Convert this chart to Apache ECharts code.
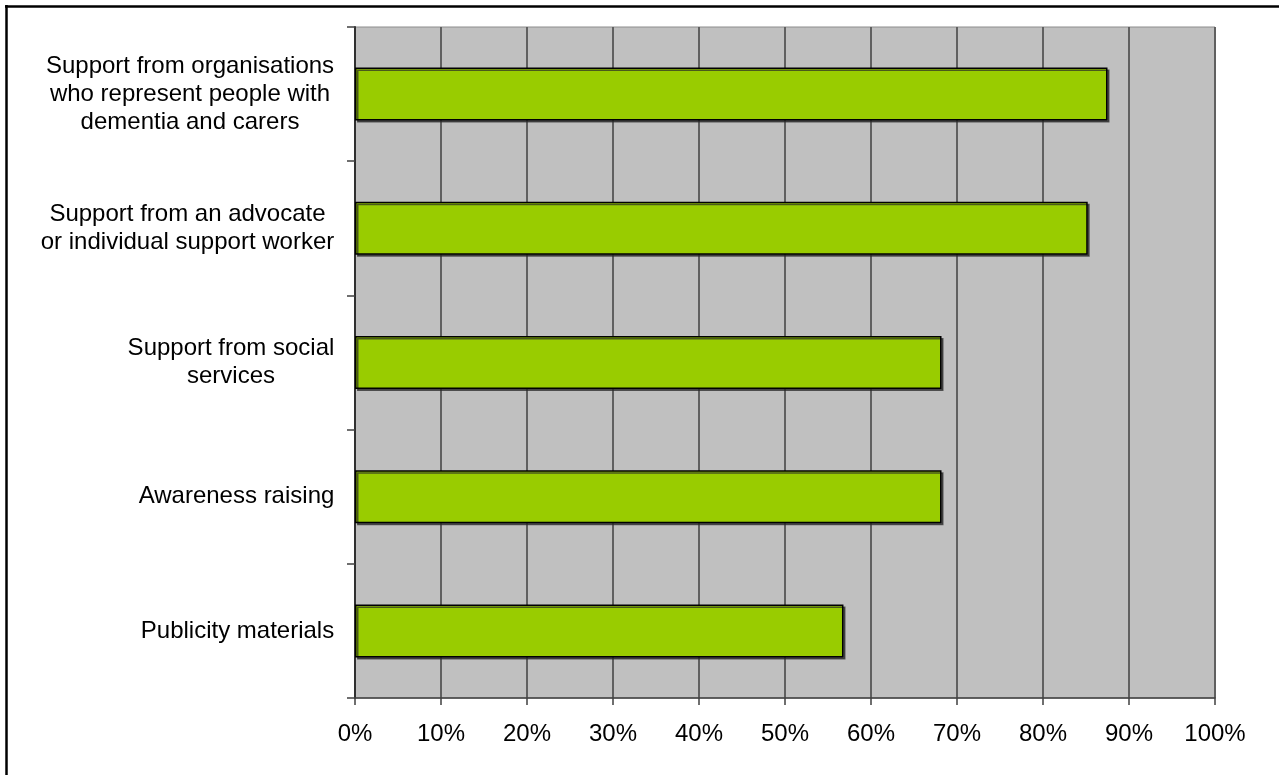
<!DOCTYPE html>
<html>
<head>
<meta charset="utf-8">
<title>Support types</title>
<script src="https://cdn.jsdelivr.net/npm/echarts@6/dist/echarts.min.js"></script>
<style>
  html, body { margin: 0; padding: 0; background: #ffffff; }
  #chart { width: 1279px; height: 775px; }
</style>
</head>
<body>
<div id="chart"></div>
<script>
// Categories, top to bottom, with their line breaks
const categories = [
  'Support from organisations\nwho represent people with\ndementia and carers',
  'Support from an advocate\nor individual support worker',
  'Support from social\nservices',
  'Awareness raising',
  'Publicity materials'
];
// Share of respondents (%)
const values = [87.5, 85.2, 68.2, 68.2, 56.8];
// Value axis ticks
const tickValues = [0, 10, 20, 30, 40, 50, 60, 70, 80, 90, 100];

const FONT = '"Liberation Sans", Arial, sans-serif';
const FONT_SIZE = 24;

// Each label block is as wide as its longest line; lines are centred inside it.
const measureCtx = document.createElement('canvas').getContext('2d');
measureCtx.font = FONT_SIZE + 'px ' + FONT;
const rich = {};
categories.forEach(function (cat, i) {
  const w = Math.max.apply(null, cat.split('\n').map(function (l) {
    return measureCtx.measureText(l).width;
  }));
  rich['c' + i] = {
    width: Math.ceil(w) + 1,
    align: 'center',
    fontFamily: FONT,
    fontSize: FONT_SIZE,
    lineHeight: 28,
    color: '#000'
  };
});

const chart = echarts.init(document.getElementById('chart'), null, { renderer: 'canvas' });

chart.setOption({
  animation: false,
  backgroundColor: '#ffffff',
  textStyle: { fontFamily: FONT },
  grid: {
    left: 355, right: 64, top: 27, bottom: 77,
    show: true,
    backgroundColor: '#C0C0C0',
    borderColor: '#8c8c8c',
    borderWidth: 1,
    containLabel: false
  },
  xAxis: {
    type: 'value',
    min: tickValues[0],
    max: tickValues[tickValues.length - 1],
    interval: tickValues[1] - tickValues[0],
    axisLine: { show: true, lineStyle: { color: '#404040', width: 1.5 } },
    axisTick: { show: true, length: 7, lineStyle: { color: '#404040', width: 1.5 } },
    axisLabel: {
      margin: 24,
      fontSize: FONT_SIZE,
      fontFamily: FONT,
      color: '#000',
      formatter: function (v) { return v + '%'; }
    },
    splitLine: { show: true, lineStyle: { color: '#606060', width: 2 } }
  },
  yAxis: {
    type: 'category',
    inverse: true,
    data: categories,
    axisLine: { show: true, lineStyle: { color: '#303030', width: 2 } },
    axisTick: { show: true, length: 8, alignWithLabel: false, lineStyle: { color: '#404040', width: 1.5 } },
    axisLabel: {
      margin: 20,
      align: 'right',
      formatter: function (value, index) {
        return value.split('\n').map(function (l) {
          return '{c' + index + '|' + l + '}';
        }).join('\n');
      },
      rich: rich
    },
    splitLine: { show: false }
  },
  series: [{
    type: 'bar',
    data: values,
    barWidth: '39.5%',
    itemStyle: {
      color: '#99CC00',
      borderColor: '#000000',
      borderWidth: 1.5,
      shadowColor: 'rgba(40,40,40,0.7)',
      shadowBlur: 0,
      shadowOffsetX: 2,
      shadowOffsetY: 2
    },
    emphasis: { disabled: true }
  }],
  graphic: [
    {
      type: 'line',
      shape: { x1: 5, y1: 6.5, x2: 1279, y2: 6.5 },
      style: { stroke: '#000', lineWidth: 2.5 },
      silent: true
    },
    {
      type: 'line',
      shape: { x1: 6.5, y1: 5, x2: 6.5, y2: 775 },
      style: { stroke: '#000', lineWidth: 2.5 },
      silent: true
    }
  ]
});
</script>
</body>
</html>
